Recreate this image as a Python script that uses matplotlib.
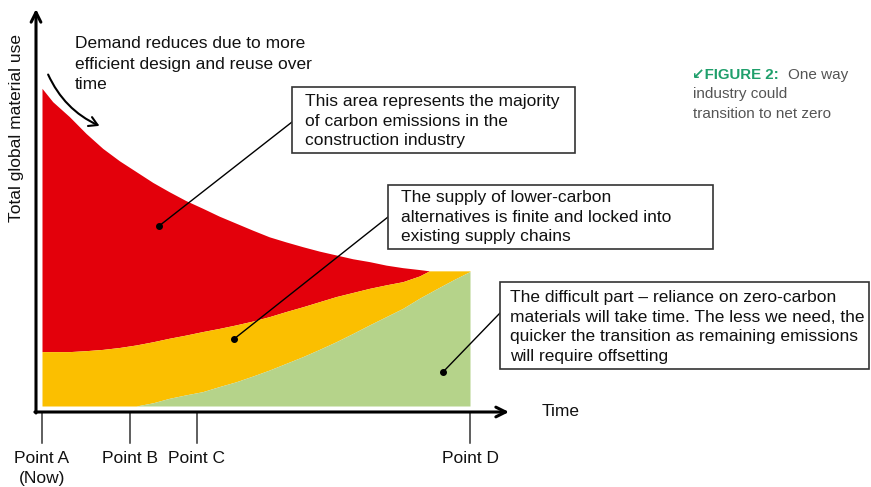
import matplotlib
matplotlib.use("Agg")
import matplotlib.pyplot as plt
from matplotlib.patches import Rectangle, FancyArrowPatch

plt.rcParams['font.family'] = ['Liberation Sans', 'DejaVu Sans']

# time axis (Point A = 0, Point D = 100) and stacked top edges of each band
t = [0, 2.5, 6.4, 10.3, 14.2, 18.1, 22, 25.9, 29.7, 33.6, 37.5, 41.4, 45.3, 49.2,
     53.1, 57, 60.9, 64.8, 68.7, 72.6, 76.5, 80.4, 84.3, 88.2, 90.5, 92.4, 96, 100]
red_top = [99.9, 95.7, 91.0, 85.7, 81.0, 77.1, 73.7, 70.3, 67.4, 64.6, 62.2, 59.7, 57.5, 55.3,
           53.2, 51.6, 50.1, 48.7, 47.5, 46.3, 45.4, 44.3, 43.5, 42.9, 42.5, 42.5, 42.5, 42.5]
yellow_top = [17.1, 17.1, 17.1, 17.4, 17.8, 18.4, 19.2, 20.2, 21.3, 22.3, 23.4, 24.4, 25.5, 26.7,
              28.1, 29.7, 31.2, 32.8, 34.4, 35.7, 37.0, 38.1, 39.1, 40.9, 42.5, 42.5, 42.5, 42.5]
green_top = [0, 0, 0, 0, 0, 0, 0, 1.0, 2.4, 3.5, 4.5, 6.1, 7.6, 9.4,
             11.3, 13.4, 15.5, 17.8, 20.2, 22.8, 25.5, 28.1, 30.7, 33.9, 35.6, 37.0, 39.6, 42.3]

point_t = [0, 20.6, 36.2, 100]
point_labels = ['Point A\n(Now)', 'Point B', 'Point C', 'Point D']

RED = '#e3000b'
YELLOW = '#fbbf00'
GREEN = '#b5d38a'
TEXT = '#111111'

W, H = 871, 487
fig = plt.figure(figsize=(W / 100, H / 100), dpi=100)
ax = fig.add_axes([0, 0, 1, 1])

# pixel -> data helpers (x0 at px 42, y0 at px 406)
SX, SY = 4.28, 3.18
def P(x, y):
    return ((x - 42) / SX, (406 - y) / SY)

ax.set_xlim(P(0, 0)[0], P(W, 0)[0])
ax.set_ylim(P(0, H)[1], P(0, 0)[1])
ax.axis('off')

# bands
ax.fill_between(t, yellow_top, red_top, color=RED, lw=0)
ax.fill_between(t, green_top, yellow_top, color=YELLOW, lw=0)
ax.fill_between(t, 0, green_top, color=GREEN, lw=0)

# axes with arrows
ax.annotate('', xy=P(36, 9), xytext=P(36, 413),
            arrowprops=dict(arrowstyle='->,head_length=0.7,head_width=0.35', lw=2.2, color='black',
                            shrinkA=0, shrinkB=0))
ax.annotate('', xy=P(509, 412), xytext=P(34.9, 412),
            arrowprops=dict(arrowstyle='->,head_length=0.7,head_width=0.35', lw=2.2, color='black',
                            shrinkA=0, shrinkB=0))

ax.text(*P(561, 411), 'Time', fontsize=12.5, color=TEXT, ha='center', va='center')
ax.text(*P(17, 128), 'Total global material use', fontsize=12.5, color=TEXT,
        rotation=90, ha='center', va='center')

# time markers
tick_top = P(0, 413)[1]
tick_bot = P(0, 443)[1]
for tp, lab in zip(point_t, point_labels):
    ax.plot([tp, tp], [tick_top, tick_bot], color='#333333', lw=1.1)
    ax.text(tp, P(0, 451)[1], lab, fontsize=12.5, color=TEXT, ha='center', va='top',
            linespacing=1.4)

# demand note with curved arrow
ax.text(*P(75, 64), 'Demand reduces due to more\nefficient design and reuse over\ntime',
        fontsize=12.5, color=TEXT, ha='left', va='center', linespacing=1.42)
ax.add_patch(FancyArrowPatch(P(47, 72), P(102, 127), connectionstyle='arc3,rad=0.2',
                             arrowstyle='->,head_length=6,head_width=3.5', lw=1.5, color='black'))

# callout boxes: (rect in px, text, text left, text center y, dot, leader end)
callouts = [
    ((292, 87, 575, 153),
     'This area represents the majority\nof carbon emissions in the\nconstruction industry',
     305, 121, (159, 226), (292, 122)),
    ((388, 185, 713, 249),
     'The supply of lower-carbon\nalternatives is finite and locked into\nexisting supply chains',
     401, 217, (234, 339), (388, 217)),
    ((500, 282, 869, 369),
     'The difficult part \u2013 reliance on zero-carbon\nmaterials will take time. The less we need, the\n'
     'quicker the transition as remaining emissions\nwill require offsetting',
     510, 327, (443, 372), (500, 313)),
]
for (x0, y0, x1, y1), txt, tx, ty, dot, end in callouts:
    bl = P(x0, y1)
    tr = P(x1, y0)
    ax.add_patch(Rectangle(bl, tr[0] - bl[0], tr[1] - bl[1], facecolor='white',
                           edgecolor='#333333', lw=1.2, zorder=3))
    ax.text(*P(tx, ty), txt, fontsize=12.5, color=TEXT, ha='left', va='center',
            linespacing=1.38, zorder=4)
    d = P(*dot)
    e = P(*end)
    ax.plot([d[0], e[0]], [d[1], e[1]], color='black', lw=1.0, zorder=2)
    ax.plot(*d, 'o', color='black', markersize=4, zorder=2)

# figure caption
ax.text(*P(692, 75), '\u2199FIGURE 2:', fontsize=10.8, color='#1f9f6b', fontweight='bold',
        ha='left', va='center')
ax.text(*P(788, 75), 'One way', fontsize=11, color='#555555', ha='left', va='center')
ax.text(*P(693, 104), 'industry could\ntransition to net zero', fontsize=11, color='#555555',
        ha='left', va='center', linespacing=1.5)

fig.savefig('out.png', dpi=100)
